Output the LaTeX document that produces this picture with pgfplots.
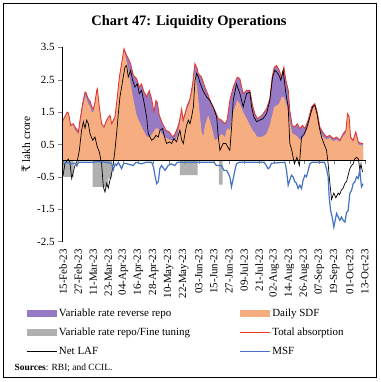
\documentclass[border=0pt]{standalone}
\usepackage{pgfplots}
\pgfplotsset{compat=1.18}
\usepackage{fontspec}
\setmainfont{Liberation Serif}
\newfontfamily\rupeefont{DejaVu Serif}
\definecolor{vrrr}{RGB}{150,122,196}
\definecolor{sdf}{RGB}{246,174,128}
\definecolor{repo}{RGB}{176,176,176}
\definecolor{tot}{RGB}{235,50,35}
\definecolor{msf}{RGB}{68,114,196}
\begin{document}
\begin{tikzpicture}[x=1bp,y=1bp]
\path[use as bounding box] (0,0) rectangle (381,382);
\draw[line width=0.9bp] (3.5,4.5) rectangle (376.5,378.5);
\node[font=\bfseries\fontsize{14.5}{17}\selectfont] at (189,360) {Chart 47: Liquidity Operations};
\node[anchor=west, font=\fontsize{9.5}{11}\selectfont] at (11,14) {\textbf{Sources}: RBI; and CCIL.};
\begin{axis}[
  at={(62bp,334.7bp)}, anchor=north west, scale only axis,
  width=304bp, height=194.3bp,
  xmin=-0.8, xmax=241, ymin=-2.5, ymax=3.5,
  axis y line=left, axis x line=bottom, axis line style={-},
  x axis line style={draw=none},
  xtick={0,12,...,240},
  xticklabels={15-Feb-23,27-Feb-23,11-Mar-23,23-Mar-23,04-Apr-23,16-Apr-23,28-Apr-23,10-May-23,22-May-23,03-Jun-23,15-Jun-23,27-Jun-23,09-Jul-23,21-Jul-23,02-Aug-23,14-Aug-23,26-Aug-23,07-Sep-23,19-Sep-23,01-Oct-23,13-Oct-23},
  xticklabel style={rotate=90, anchor=east, font=\fontsize{11}{12}\selectfont},
  xtick style={draw=none},
  ytick={-2.5,-1.5,-0.5,0.5,1.5,2.5,3.5},
  yticklabels={-2.5,-1.5,-0.5,0.5,1.5,2.5,3.5},
  yticklabel style={font=\fontsize{11}{12}\selectfont},
  tick align=outside, major tick length=4bp,
  ylabel={{\rupeefont ₹} lakh crore},
  ylabel style={font=\fontsize{11.5}{12}\selectfont},
  legend columns=2,
  legend cell align=left,
  legend style={at={(axis description cs:-0.128,-0.325)}, anchor=north west, draw=none, fill=none,
    font=\fontsize{11}{12}\selectfont, row sep=6bp,
    /tikz/every even column/.append style={column sep=47bp}},
]
\addplot[fill=vrrr, draw=none, legend image code/.code={\fill[vrrr] (0bp,-3.5bp) rectangle (30bp,3.5bp);}] coordinates {
(0,1.25) (2,1.4) (3.4,1.5) (4.4,1.47) (6.1,1.09) (8.2,1.14) (9.5,1.04) (11.4,0.94) (12.2,0.89) (13.5,1.25) (15.6,1.76) (17.5,2.12) (18.3,2.1) (20.1,1.91) (21.9,1.81) (22.8,1.66) (24.1,1.6) (25.4,1.8) (26.8,2.17) (27.3,2.22) (28.9,1.66) (30.7,1.14) (32.6,1.04) (34.7,1.25) (36,1.34) (37.4,1.4) (38.7,1.14) (41.3,1.35) (42.7,1.81) (43.2,1.97) (44.8,2.58) (46.6,3.0) (48.5,3.46) (50.1,3.3) (51.9,3.15) (53.7,3.0) (55.9,2.64) (58.6,2.53) (60.7,2.27) (62.5,2.37) (64.4,2.12) (66.5,1.97) (68.6,2.17) (70.5,1.91) (72.3,1.5) (73.9,1.86) (75,1.8) (76.6,1.4) (79.2,1.14) (81.9,0.94) (84.5,0.89) (87.2,0.73) (89.1,0.83) (90.9,0.99) (92.5,1.2) (94.4,1.6) (95.5,1.25) (97,1.45) (98.8,1.7) (101,1.91) (103.1,2.37) (104.9,3.0) (106.8,2.84) (107.6,2.69) (110.2,2.58) (112.9,2.27) (115.5,2.02) (118.2,1.71) (120.8,1.55) (123.5,1.3) (126.1,1.25) (128.8,1.14) (130.5,1.25) (132.7,1.86) (135.4,2.27) (138.6,2.58) (140.7,2.53) (143.3,2.07) (146,2.17) (148.6,2.17) (150.8,1.71) (152.6,1.45) (154.5,1.30) (156.6,1.35) (159.2,1.45) (161.9,1.6) (164.5,1.91) (166.4,2.58) (168,2.89) (169.9,2.94) (172,2.79) (173.9,2.58) (175.7,2.89) (177.3,2.48) (179.2,2.17) (180.4,1.55) (182.3,1.09) (184.4,1.04) (186.3,1.14) (188.4,0.99) (190.5,1.09) (192.4,0.99) (195,1.25) (197.7,1.66) (200.3,1.76) (202.2,1.5) (204.3,1.04) (206.4,0.89) (209.6,0.73) (212.2,0.78) (214.9,0.68) (217.6,0.73) (220.2,0.63) (222.8,0.83) (225,0.94) (226.3,1.45) (227.6,1.35) (228.7,0.73) (230.8,0.63) (232.9,0.89) (234.8,0.58) (237.5,0.53) (238.8,0.53)
} \closedcycle;
\addlegendentry{Variable rate reverse repo}
\addplot[fill=sdf, draw=none, legend image code/.code={\fill[sdf] (0bp,-3.5bp) rectangle (30bp,3.5bp);}] coordinates {
(0,1.2) (2,1.35) (3.4,1.45) (4.4,1.42) (6.1,1.05) (8.2,1.1) (9.5,0.95) (11.4,0.85) (12.2,0.8) (13.5,1.1) (15.6,1.6) (17.5,1.95) (18.3,1.95) (20.1,1.75) (21.9,1.65) (22.8,1.5) (24.1,1.5) (25.4,1.7) (26.8,2.1) (27.3,2.15) (28.9,1.6) (30.7,1.1) (32.6,1.0) (34.7,1.2) (36,1.3) (37.4,1.35) (38.7,1.1) (41.3,1.3) (42.7,1.75) (43.2,1.9) (44.8,2.5) (46.6,2.95) (48.5,3.4) (50.1,3.15) (51.9,2.85) (53.7,2.4) (55.9,1.9) (58.6,1.4) (60.7,1.2) (62.5,1.05) (64.4,0.9) (66.5,0.75) (68.6,0.72) (70.5,0.8) (72.3,0.9) (73.9,1.0) (75,1.0) (76.6,0.95) (79.2,0.8) (81.9,0.7) (84.5,0.65) (87.2,0.62) (89.1,0.65) (90.9,0.75) (92.5,1.05) (94.4,1.5) (95.5,1.15) (97,1.35) (98.8,1.6) (101,1.8) (103.1,2.2) (104.9,2.7) (106.8,2.2) (107.6,1.9) (110.2,0.9) (111.5,0.75) (112.9,1.1) (115.5,1.4) (118.2,1.05) (120.8,0.63) (123.5,0.7) (126.1,0.83) (128.8,0.73) (130.5,1.0) (132.7,0.94) (135.4,1.5) (138.6,1.86) (140.7,1.75) (143.3,1.5) (146,1.3) (148.6,1.1) (150.8,0.94) (152.6,0.85) (154.5,0.73) (156.6,0.73) (159.2,0.75) (161.9,0.83) (164.5,1.1) (166.4,1.4) (168,1.66) (169.9,1.7) (172,1.76) (173.9,1.97) (175.7,1.97) (177.3,1.8) (179.2,1.5) (180.4,1.2) (182.3,0.85) (184.4,0.8) (186.3,0.75) (188.4,0.63) (190.5,0.7) (192.4,0.8) (195,1.05) (197.7,1.5) (200.3,1.7) (202.2,1.4) (204.3,0.9) (206.4,0.75) (209.6,0.65) (212.2,0.7) (214.9,0.6) (217.6,0.65) (220.2,0.58) (222.8,0.75) (225,0.85) (226.3,1.4) (227.6,1.3) (228.7,0.68) (230.8,0.58) (232.9,0.82) (234.8,0.5) (237.5,0.47) (238.8,0.47)
} \closedcycle;
\addlegendentry{Daily SDF}
\addplot[fill=repo, draw=none, legend image code/.code={\fill[repo] (0bp,-3.5bp) rectangle (30bp,3.5bp);}] coordinates {(0,0) (0,-0.5) (8.5,-0.5) (8.5,0)} \closedcycle;
\addlegendentry{Variable rate repo/Fine tuning}
\addplot[fill=repo, draw=none, forget plot] coordinates {(23.5,0) (23.5,-0.81) (36,-0.81) (36,-0.55) (39,-0.55) (39,0)} \closedcycle;
\addplot[fill=repo, draw=none, forget plot] coordinates {(93,0) (93,-0.45) (107,-0.45) (107,0)} \closedcycle;
\addplot[fill=repo, draw=none, forget plot] coordinates {(124,0) (124,-0.74) (127,-0.74) (127,0)} \closedcycle;
\addplot[tot, line width=0.8bp, legend image code/.code={\draw[tot, line width=0.8bp] (0bp,0bp) -- (30bp,0bp);}] coordinates {
(0,1.25) (2,1.4) (3.4,1.5) (4.4,1.47) (6.1,1.09) (8.2,1.14) (9.5,1.04) (11.4,0.94) (12.2,0.89) (13.5,1.25) (15.6,1.76) (17.5,2.12) (18.3,2.1) (20.1,1.91) (21.9,1.81) (22.8,1.66) (24.1,1.6) (25.4,1.8) (26.8,2.17) (27.3,2.22) (28.9,1.66) (30.7,1.14) (32.6,1.04) (34.7,1.25) (36,1.34) (37.4,1.4) (38.7,1.14) (41.3,1.35) (42.7,1.81) (43.2,1.97) (44.8,2.58) (46.6,3.0) (48.5,3.46) (50.1,3.3) (51.9,3.15) (53.7,3.0) (55.9,2.64) (58.6,2.53) (60.7,2.27) (62.5,2.37) (64.4,2.12) (66.5,1.97) (68.6,2.17) (70.5,1.91) (72.3,1.5) (73.9,1.86) (75,1.8) (76.6,1.4) (79.2,1.14) (81.9,0.94) (84.5,0.89) (87.2,0.73) (89.1,0.83) (90.9,0.99) (92.5,1.2) (94.4,1.6) (95.5,1.25) (97,1.45) (98.8,1.7) (101,1.91) (103.1,2.37) (104.9,3.0) (106.8,2.84) (107.6,2.69) (110.2,2.58) (112.9,2.27) (115.5,2.02) (118.2,1.71) (120.8,1.55) (123.5,1.3) (126.1,1.25) (128.8,1.14) (130.5,1.25) (132.7,1.86) (135.4,2.27) (138.6,2.58) (140.7,2.53) (143.3,2.07) (146,2.17) (148.6,2.17) (150.8,1.71) (152.6,1.45) (154.5,1.30) (156.6,1.35) (159.2,1.45) (161.9,1.6) (164.5,1.91) (166.4,2.58) (168,2.89) (169.9,2.94) (172,2.79) (173.9,2.58) (175.7,2.89) (177.3,2.48) (179.2,2.17) (180.4,1.55) (182.3,1.09) (184.4,1.04) (186.3,1.14) (188.4,0.99) (190.5,1.09) (192.4,0.99) (195,1.25) (197.7,1.66) (200.3,1.76) (202.2,1.5) (204.3,1.04) (206.4,0.89) (209.6,0.73) (212.2,0.78) (214.9,0.68) (217.6,0.73) (220.2,0.63) (222.8,0.83) (225,0.94) (226.3,1.45) (227.6,1.35) (228.7,0.73) (230.8,0.63) (232.9,0.89) (234.8,0.58) (237.5,0.53) (238.8,0.53)
};
\addlegendentry{Total absorption}
\addplot[black, line width=0.7bp, legend image code/.code={\draw[black, line width=0.7bp] (0bp,0bp) -- (30bp,0bp);}] coordinates {
(0,-0.47) (1.5,-0.1) (4.2,0.05) (5.5,-0.05) (6.9,-0.55) (8.2,-0.35) (9.5,-0.15) (11.4,0.0) (13,0.32) (14.8,0.94) (16.2,1.2) (17.5,1.0) (18.8,1.25) (20.1,1.15) (21.5,0.83) (23.6,0.63) (25.4,0.73) (27.3,0.42) (28.9,0.27) (30.7,-0.1) (32.1,-0.81) (33.4,-0.97) (34.7,-0.7) (36,-0.85) (37.4,-0.6) (38.7,-0.4) (40,-0.1) (41.3,0.32) (42.6,0.83) (44,1.45) (45.3,1.97) (46.6,2.27) (47.9,2.58) (49.3,2.89) (50.6,2.94) (51.9,2.58) (53.8,2.79) (55.4,2.48) (57.2,2.27) (59.1,2.37) (60.7,2.07) (62.5,2.17) (64.4,1.81) (66.5,1.35) (67.8,0.83) (69.2,0.73) (70.5,0.63) (72.3,0.68) (73.9,0.78) (75.8,0.73) (77.1,0.94) (79.2,0.99) (81.1,0.68) (82.4,0.53) (84.5,0.58) (86.4,0.53) (88.2,0.68) (90.4,0.58) (91.7,0.78) (93,0.94) (94.4,0.63) (95.7,0.53) (97,0.83) (98.3,1.09) (99.7,1.25) (101,1.14) (102.3,1.35) (103.7,1.66) (105,2.48) (106.3,2.69) (107.7,2.58) (109,2.4) (111.5,2.15) (114.2,1.97) (117,1.85) (119.5,1.66) (122.2,1.35) (123.5,0.73) (124.8,0.32) (126,0.42) (127.4,0.53) (129.6,0.53) (131,0.42) (132.7,0.32) (134.1,1.04) (135.4,1.86) (138,2.37) (140.7,2.07) (143.3,1.66) (146,2.07) (148.6,2.12) (150,1.66) (151.8,1.35) (154,1.2) (156.6,1.25) (159.2,1.3) (161.9,1.45) (164.5,1.86) (166.7,2.58) (168.5,2.79) (170,2.74) (171.7,2.64) (173.3,2.48) (175.1,2.79) (177.3,2.07) (179.1,1.66) (180.4,0.53) (182,0.32) (184,-0.1) (186,0.1) (188,-0.15) (189.7,0.73) (191.5,0.8) (193.7,0.99) (196.3,1.35) (198.5,1.66) (200.3,1.71) (202,1.45) (203.8,1.04) (205.6,0.73) (207.5,0.53) (209.6,0.32) (210.9,-0.1) (212,-0.6) (213.6,-1.2) (215.4,-1.0) (217,-1.15) (218.9,-1.0) (220,-1.05) (221.5,-0.9) (222.8,-0.85) (224.2,-0.7) (225.5,-0.65) (226.8,-0.45) (228.1,-0.25) (229.5,-0.15) (230.8,-0.1) (232.1,0.06) (233.5,0.1) (235,0.05) (236.1,-0.3) (237,-0.1) (238.2,-0.35)
};
\addlegendentry{Net LAF}
\addplot[msf, line width=1.2bp, legend image code/.code={\draw[msf, line width=1.2bp] (0bp,0bp) -- (30bp,0bp);}] coordinates {
(0,-0.1) (3,-0.05) (6,-0.1) (9.5,-0.08) (11,-0.17) (12.2,-0.05) (22.8,-0.05) (30,-0.03) (38.7,-0.08) (40,-0.28) (41.5,-0.1) (42.7,-0.15) (44,-0.05) (46.6,-0.25) (48,-0.1) (49.3,-0.08) (55.9,-0.15) (58,-0.05) (62.5,-0.1) (66,-0.05) (70.5,-0.05) (72,-0.2) (73.1,-0.45) (74.5,-0.71) (75.8,-0.65) (77,-0.25) (78.4,-0.15) (81.1,-0.3) (83.7,-0.15) (86,-0.1) (89,-0.15) (91,-0.05) (120,-0.05) (122,-0.15) (126,-0.15) (128,-0.3) (130,-0.3) (131.5,-0.4) (132.7,-0.5) (134,-0.81) (135.4,-0.55) (136.7,-0.3) (138,-0.1) (140,-0.05) (160,-0.05) (163.2,-0.25) (164.5,-0.2) (165.8,-0.08) (176.5,-0.05) (177.8,-0.3) (179.1,-0.76) (180.4,-0.6) (181.7,-0.45) (183,-0.5) (184.4,-0.65) (185.7,-0.7) (187,-0.86) (188.4,-0.76) (189.7,-0.86) (191,-0.6) (192.4,-0.45) (193.7,-0.5) (195,-0.3) (196.3,-0.1) (198,-0.05) (208,-0.05) (209.6,-0.25) (210.9,-0.5) (211.7,-1.12) (212.8,-1.53) (214.1,-1.74) (215.4,-2.05) (216.5,-1.84) (217.6,-1.63) (218.9,-1.74) (220.2,-1.84) (221.5,-1.74) (222.8,-1.84) (224.2,-1.9) (225.5,-1.6) (226.8,-1.55) (228.1,-1.02) (229.5,-0.92) (230.8,-0.71) (232.1,-0.66) (233.5,-0.5) (234.8,-0.55) (236.1,-0.3) (237.4,-0.81) (238.7,-0.71)
};
\addlegendentry{MSF}
\end{axis}
\begin{axis}[
  at={(62bp,334.7bp)}, anchor=north west, scale only axis,
  width=304bp, height=113.3bp,
  xmin=-0.8, xmax=241, ymin=0, ymax=3.5,
  axis x line=bottom, axis y line=none, axis line style={-, line width=0.6bp},
  xtick={0,12,...,240}, xticklabels={}, ytick=\empty,
  tick align=outside, major tick length=3bp,
]
\end{axis}
\end{tikzpicture}
\end{document}
